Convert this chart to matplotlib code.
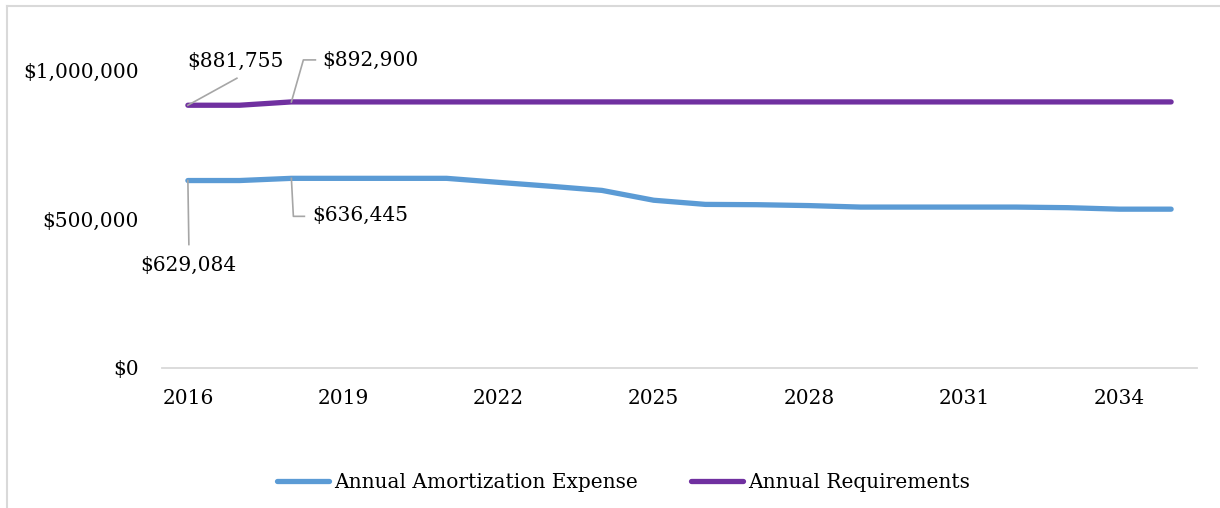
import matplotlib
matplotlib.use("Agg")
import matplotlib.pyplot as plt
from matplotlib.lines import Line2D
from matplotlib.transforms import IdentityTransform
from matplotlib.ticker import FuncFormatter

years = list(range(2016, 2036))
amortization = [629084, 629084, 636445, 636445, 636445, 636445, 623000, 610000,
                596000, 563000, 549000, 548000, 545000, 540000, 540000, 540000,
                540000, 538000, 533000, 533000]
requirements = [881755, 881755] + [892900] * 18

BLUE = "#5b9bd5"
PURPLE = "#7030a0"
LEADER = "#a6a6a6"
GRID = "#d9d9d9"
FS = 14.5

plt.rcParams["font.family"] = "DejaVu Serif"
plt.rcParams["font.size"] = FS

W, H = 1220, 508
fig = plt.figure(figsize=(W / 100, H / 100), dpi=100)
ax = fig.add_axes([162 / W, 1 - 368 / H, (1197 - 162) / W, (368 - 70) / H])

ax.plot(years, amortization, color=BLUE, lw=3.8, solid_capstyle="round",
        label="Annual Amortization Expense")
ax.plot(years, requirements, color=PURPLE, lw=3.8, solid_capstyle="round",
        label="Annual Requirements")

ax.set_xlim(2015.5, 2035.5)
ax.set_ylim(0, 1000000)
ax.set_xticks(years[::3])
ax.set_yticks([0, 500000, 1000000])
ax.yaxis.set_major_formatter(FuncFormatter(lambda v, _: f"${v:,.0f}"))
ax.tick_params(length=0, colors="black", labelsize=FS)
ax.tick_params(axis="x", pad=15)
ax.tick_params(axis="y", pad=17)
for s in ("top", "right", "left"):
    ax.spines[s].set_visible(False)
ax.spines["bottom"].set_color(GRID)
ax.spines["bottom"].set_linewidth(1.3)


def callout(x, y, path, tx, ty, ha):
    # leader line and value label, offsets in pixels from the data point
    px, py = ax.transData.transform((x, y))
    xs = [px + dx for dx, dy in path]
    ys = [py + dy for dx, dy in path]
    fig.add_artist(Line2D(xs, ys, color=LEADER, lw=1.2, transform=IdentityTransform()))
    fig.text(px + tx, py + ty, f"${y:,.0f}", ha=ha, va="center",
             transform=IdentityTransform(), fontsize=FS)


callout(years[0], requirements[0], [(0, 0), (49, 27)], 48, 44, "center")
callout(years[2], requirements[2], [(0, 0), (12, 42), (24, 42)], 31, 42, "left")
callout(years[0], amortization[0], [(0, 0), (1, -64)], 0, -85, "center")
callout(years[2], amortization[2], [(0, 0), (2, -38), (13, -38)], 21, -37, "left")

# outer chart frame, partly cut off at the right and bottom
fig.add_artist(Line2D([7 / W, 7 / W], [0, 1 - 6 / H], color=GRID, lw=1.5,
                      transform=fig.transFigure))
fig.add_artist(Line2D([7 / W, 1], [1 - 6 / H, 1 - 6 / H], color=GRID, lw=1.5,
                      transform=fig.transFigure))

fig.legend(loc="center", bbox_to_anchor=(0.511, 1 - 483 / H), ncol=2,
           frameon=False, fontsize=FS, handlelength=2.6, handletextpad=0.25,
           columnspacing=2.6)

fig.savefig("out.png", dpi=100)
